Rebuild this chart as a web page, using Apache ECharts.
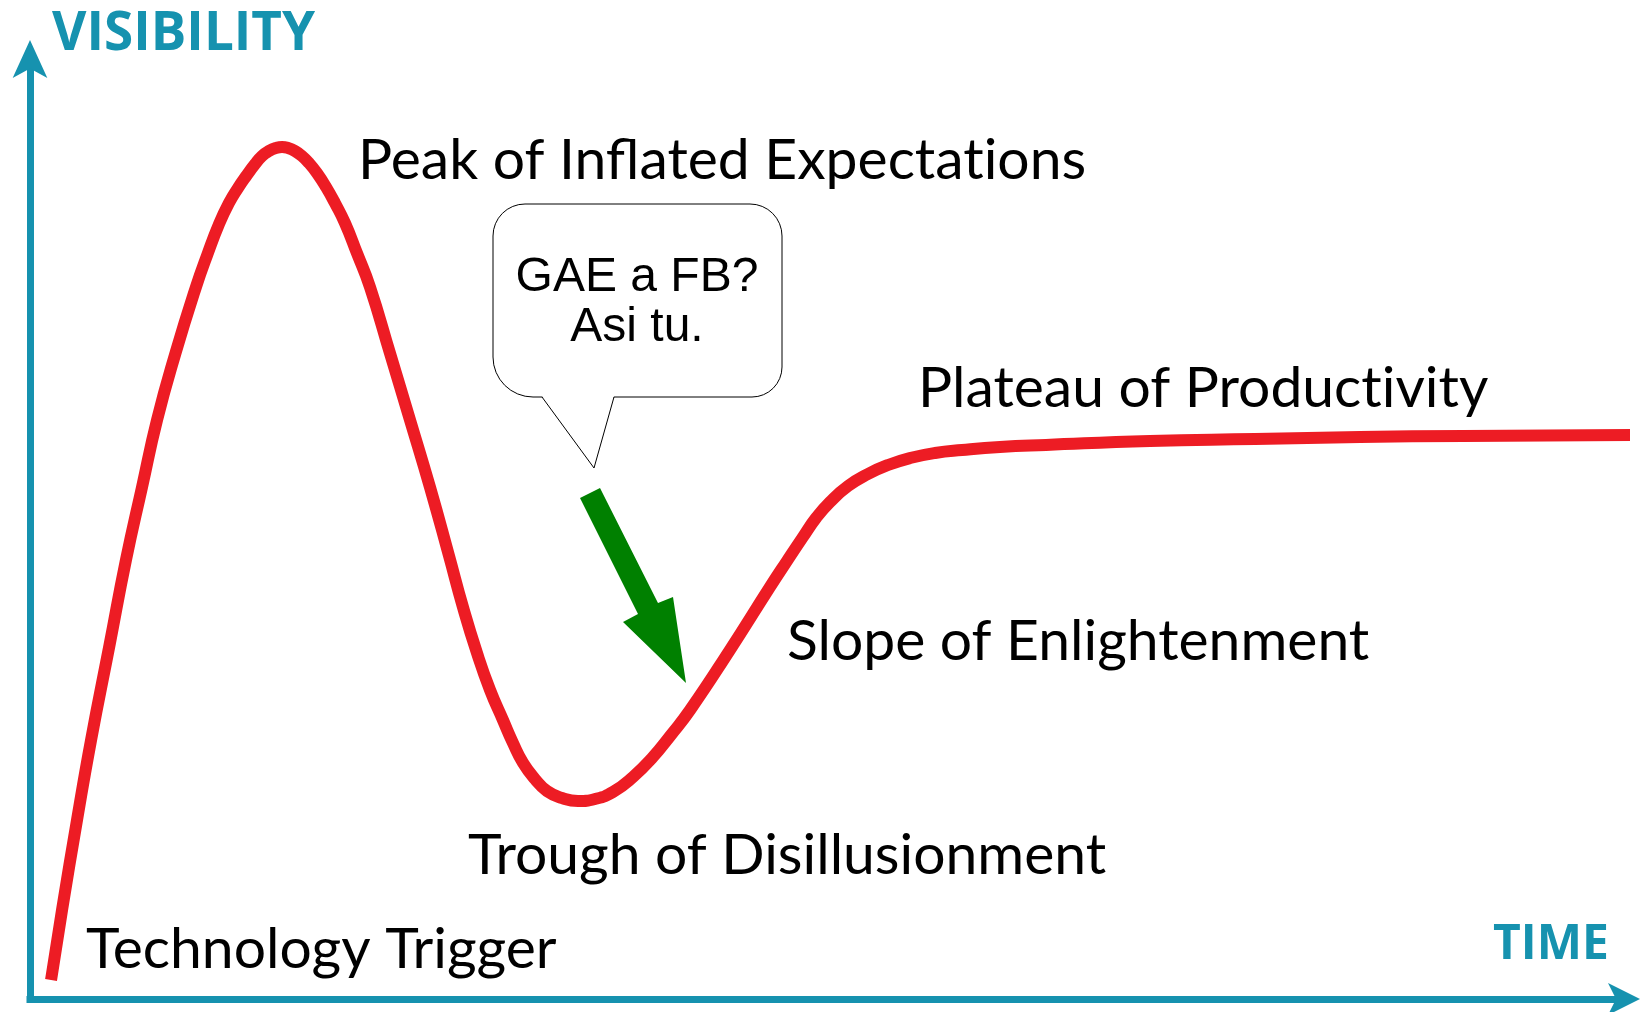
<!DOCTYPE html>
<html>
<head>
<meta charset="utf-8">
<title>Hype cycle</title>
<script src="https://cdn.jsdelivr.net/npm/echarts@6/dist/echarts.min.js"></script>
<style>
  html, body { margin: 0; padding: 0; background: #fff; }
  #chart { width: 1640px; height: 1012px; }
</style>
</head>
<body>
<div id="chart"></div>
<script>
// curve: time and visibility both on a 0-100 scale
// (denser around the peak, trough and the bend into the plateau)
const time = [1.32, 2.01, 2.95, 3.83, 4.99, 6.02, 7.03, 7.97, 9.13, 10.41, 11.14, 11.86, 12.48, 13.05,
  13.61, 14.12, 14.55, 14.99, 15.43, 15.81, 16.19, 16.62, 17.06, 17.50, 18.00, 18.57, 19.13, 19.76,
  20.51, 21.33, 22.58, 23.84, 25.09, 26.29, 27.16, 28.04, 28.86, 29.67, 30.30, 30.93, 31.68, 32.43,
  33.38, 34.38, 35.45, 36.57, 37.83, 39.08, 40.21, 41.41, 43.91, 46.42, 47.49, 48.49, 49.31, 50.19,
  51.32, 52.57, 53.83, 55.21, 56.78, 58.47, 60.85, 63.74, 70.26, 76.85, 83.44, 89.96, 100.38]
const visibility = [2.02, 9.47, 19.04, 27.55, 37.66, 46.70, 54.47, 61.60, 68.72, 75.74, 79.26, 82.45, 84.68, 86.28,
  87.66, 88.83, 89.68, 90.21, 90.53, 90.64, 90.53, 90.21, 89.68, 88.94, 87.87, 86.38, 84.68, 82.55,
  79.36, 75.74, 68.72, 61.60, 54.47, 47.13, 41.70, 36.81, 32.87, 29.68, 27.23, 25.11, 23.40, 22.13,
  21.38, 21.06, 21.28, 22.02, 23.62, 25.74, 28.09, 30.74, 37.13, 43.83, 46.60, 49.15, 51.17, 52.87,
  54.57, 55.85, 56.81, 57.55, 58.09, 58.40, 58.72, 58.94, 59.36, 59.57, 59.79, 59.89, 60.00]
const axisNames = ['VISIBILITY', 'TIME']
const phases = ['Technology Trigger', 'Peak of Inflated Expectations', 'Trough of Disillusionment',
  'Slope of Enlightenment', 'Plateau of Productivity']
const bubbleLines = ['GAE a FB?', 'Asi tu.']

const teal = '#1692AF'
const red = '#ED1C24'
const labelFont = '57px Lato'

const chart = echarts.init(document.getElementById('chart'), null, { renderer: 'canvas' })

function phaseText(text, x, y) {
  return {
    type: 'text',
    x: x,
    y: y,
    silent: true,
    // zero-width non-joiner keeps Lato from drawing its "ti" ligature
    style: { text: text.replace(/ti/g, 't\u200Ci'), font: labelFont, fill: '#000', verticalAlign: 'middle' }
  }
}

chart.setOption({
  animation: false,
  backgroundColor: '#fff',
  grid: { left: 30, right: 16, top: 59, bottom: 13, outerBoundsMode: 'none' },
  xAxis: {
    type: 'value',
    min: 0,
    max: 100,
    axisLine: {
      show: true,
      symbol: ['none', 'arrow'],
      symbolSize: [24, 32],
      symbolOffset: [0, 16],
      lineStyle: { color: teal, width: 7, cap: 'square' }
    },
    axisTick: { show: false },
    axisLabel: { show: false },
    splitLine: { show: false }
  },
  yAxis: {
    type: 'value',
    min: 0,
    max: 100,
    axisLine: {
      show: true,
      symbol: ['none', 'arrow'],
      symbolSize: [26, 38],
      symbolOffset: [0, 19],
      lineStyle: { color: teal, width: 7, cap: 'square' }
    },
    axisTick: { show: false },
    axisLabel: { show: false },
    splitLine: { show: false }
  },
  series: [
    {
      type: 'line',
      data: time.map((t, i) => [t, visibility[i]]),
      smooth: true,
      symbol: 'none',
      clip: false,
      silent: true,
      lineStyle: { color: red, width: 12, join: 'round' }
    }
  ],
  graphic: [
    // axis titles
    { type: 'text', x: 52, y: 35, silent: true,
      style: { text: axisNames[0], font: 'bold 53px "Open Sans"', fill: teal, verticalAlign: 'middle' } },
    { type: 'text', x: 1493, y: 945, silent: true,
      style: { text: axisNames[1], font: 'bold 48px "Open Sans"', fill: teal, verticalAlign: 'middle' } },
    // phase names
    phaseText(phases[0], 86, 950),
    phaseText(phases[1], 358, 161),
    phaseText(phases[2], 468, 856),
    phaseText(phases[3], 787, 642),
    phaseText(phases[4], 918, 389),
    // speech bubble: rounded box, tail on top of it
    {
      type: 'rect',
      silent: true,
      shape: { x: 493, y: 204, width: 289, height: 193, r: [32, 32, 30, 40] },
      style: { fill: '#fff', stroke: '#000', lineWidth: 1 }
    },
    {
      type: 'polygon',
      silent: true,
      shape: { points: [[542, 396], [614, 396], [594, 468]] },
      style: { fill: '#fff' }
    },
    {
      type: 'polyline',
      silent: true,
      shape: { points: [[542, 397], [594, 468], [614, 397]] },
      style: { stroke: '#000', lineWidth: 1, fill: null }
    },
    { type: 'text', x: 637, y: 278, silent: true,
      style: { text: bubbleLines[0], font: '48px "Liberation Sans"', fill: '#000', align: 'center', verticalAlign: 'middle' } },
    { type: 'text', x: 637, y: 328, silent: true,
      style: { text: bubbleLines[1], font: '48px "Liberation Sans"', fill: '#000', align: 'center', verticalAlign: 'middle' } },
    // green arrow pointing at the slope
    {
      type: 'polygon',
      silent: true,
      shape: { points: [[580, 498], [600, 488], [658, 603], [673, 597], [686, 683], [623, 622], [638, 614]] },
      style: { fill: '#008000' }
    }
  ]
})
</script>
</body>
</html>
